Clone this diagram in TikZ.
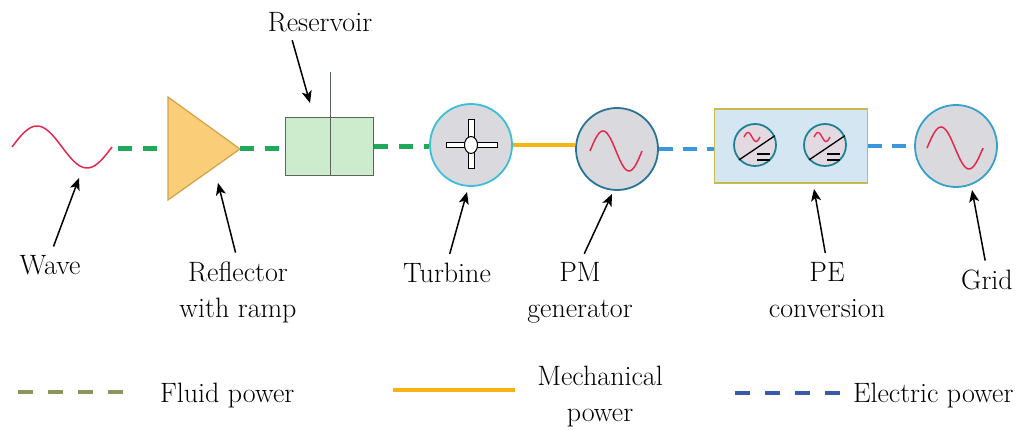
\documentclass[tikz,border=0pt]{standalone}
\usepackage{amsmath}
\usepackage{xcolor}
\usepackage{tikz}
\usetikzlibrary{arrows.meta}

\begin{document}
\begin{tikzpicture}[x=1pt,y=1pt,
  lbl/.style={text=black,anchor=base,inner sep=0pt,outer sep=0pt,font=\fontsize{28}{36}\selectfont,align=center},
  pointer/.style={draw=black,line width=1.5pt,shorten <=10pt,-{Stealth[length=12pt,width=10pt,inset=3pt]}},
  fluid/.style={draw=fluidColor,line width=5pt,dash pattern=on 14pt off 11pt},
  mech/.style={draw=mechColor,line width=4pt},
  elec/.style={draw=elecColor,line width=4pt,dash pattern=on 14pt off 10pt},
  machine/.style={circle,draw=#1,fill=machineFill,line width=1.8pt,inner sep=0pt,minimum size=82pt},
  conv/.style={circle,draw=convColor,fill=convFill,line width=1.8pt,inner sep=0pt,minimum size=42pt},
  sine/.style={draw=waveColor,line width=1.5pt,domain=0:360,samples=60,smooth}
  ]
\definecolor{fillColor}{RGB}{255,255,255}
\definecolor{waveColor}{RGB}{230,40,80}
\definecolor{fluidColor}{RGB}{30,170,90}
\definecolor{mechColor}{RGB}{245,180,20}
\definecolor{elecColor}{RGB}{60,150,220}
\definecolor{machineFill}{RGB}{218,218,222}
\definecolor{turbDraw}{RGB}{60,190,215}
\definecolor{genDraw}{RGB}{40,115,150}
\definecolor{gridDraw}{RGB}{55,160,200}
\definecolor{rampFill}{RGB}{250,205,120}
\definecolor{rampDraw}{RGB}{215,160,70}
\definecolor{resFill}{RGB}{205,235,205}
\definecolor{resDraw}{RGB}{90,100,90}
\definecolor{peFill}{RGB}{212,230,242}
\definecolor{peDraw}{RGB}{200,185,80}
\definecolor{convColor}{RGB}{30,130,150}
\definecolor{convFill}{RGB}{226,218,224}
\definecolor{legFluid}{RGB}{140,150,90}
\definecolor{legElec}{RGB}{55,90,170}
\path[use as bounding box,fill=fillColor] (0,0) rectangle (1032,430);

% chain of components
\draw[sine] plot ({12+\x/3.6},{283+21*sin(\x)});
\coordinate (waveend) at (118,281);
\coordinate (wavetip) at (79,252);

\path[fill=rampFill,draw=rampDraw,line width=1.2pt] (168,333) -- (240,281) -- (168,230) -- cycle;
\coordinate (rampbase) at (168,281);
\coordinate (ramptip) at (240,281);
\coordinate (refarrow) at (218,247);

\node[rectangle,draw=resDraw,fill=resFill,line width=1pt,minimum width=88pt,minimum height=58pt] (res) at (329,283) {};
\draw[draw=resDraw,line width=1pt] (330,358) -- (res.south -| 330,0);
\coordinate (resarrow) at (310,327);

\node[machine=turbDraw] (turb) at (471,285) {};
\path[draw=black,fill=white,line width=1pt] (446,282.5) rectangle (497,287.5);
\path[draw=black,fill=white,line width=1pt] (468,261) rectangle (474,310);
\path[draw=black,fill=white,line width=1pt] (471,285) ellipse (6.5 and 8.5);
\coordinate (turbarrow) at (467,238);

\node[machine=genDraw] (gen) at (617,281) {};
\draw[sine] plot ({590+\x/6.923},{279+20*sin(\x)});
\coordinate (genarrow) at (612,236);

\node[rectangle,draw=peDraw,fill=peFill,line width=1.5pt,minimum width=153pt,minimum height=74pt] (pe) at (791,284) {};
\foreach \cx/\nm in {755/conva,825/convb} {
  \node[conv] (\nm) at (\cx,285) {};
  \draw[sine,line width=1.4pt,samples=30] plot ({\cx-11+\x/22.5},{293+4.5*sin(\x)});
  \draw[line width=1.3pt] (\nm.223) -- (\nm.25);
  \draw[line width=2pt] (\cx+2,276) -- (\cx+15,276);
  \draw[line width=2pt] (\cx+2,270) -- (\cx+15,270);
}
\coordinate (pearrow) at (814,241);

\node[machine=gridDraw] (grid) at (956,284) {};
\draw[sine] plot ({927+\x/6.4286},{282+21*sin(\x)});
\coordinate (gridarrow) at (972,240);

% power flows
\draw[fluid] (waveend) -- (rampbase);
\draw[fluid] (ramptip) -- (ramptip -| res.west);
\draw[fluid] (res.east) -- (res.east -| turb.west);
\draw[mech] (turb.east) -- (turb.east -| gen.west);
\draw[elec] (gen.east) -- (gen.east -| pe.west);
\draw[elec] (pe.east) -- (pe.east -| grid.west);

% labels
\node[lbl] (wavelbl) at (50,155) {Wave};
\node[lbl] (reflbl) at (238,112) {Reflector\\with ramp};
\node[lbl] (reslbl) at (320,398) {Reservoir};
\node[lbl] (turblbl) at (447,147) {Turbine};
\node[lbl] (genlbl) at (580,112) {PM\\generator};
\node[lbl] (pelbl) at (827,112) {PE\\conversion};
\node[lbl] (gridlbl) at (987,140) {Grid};

\draw[pointer] (wavelbl.north) -- (wavetip);
\draw[pointer] (reflbl.north) -- (refarrow);
\draw[pointer,shorten <=8pt] ([xshift=-30pt]reslbl.south) -- (resarrow);
\draw[pointer] (turblbl.north) -- (turbarrow);
\draw[pointer] (genlbl.north) -- (genarrow);
\draw[pointer] (pelbl.north) -- (pearrow);
\draw[pointer] (gridlbl.north) -- (gridarrow);

% legend
\draw[draw=legFluid,line width=3.5pt,dash pattern=on 15pt off 15pt] (18,38) -- (125,38);
\node[lbl,anchor=base west] (fluidlbl) at (160,27) {Fluid power};
\draw[draw=mechColor,line width=4pt] (393,40) -- (515,40);
\node[lbl] (mechlbl) at (600,8) {Mechanical\\power};
\draw[draw=legElec,line width=3.5pt,dash pattern=on 15pt off 15pt] (735,37) -- (842,37);
\node[lbl,anchor=base west] (eleclbl) at (853,27) {Electric power};
\end{tikzpicture}
\end{document}
